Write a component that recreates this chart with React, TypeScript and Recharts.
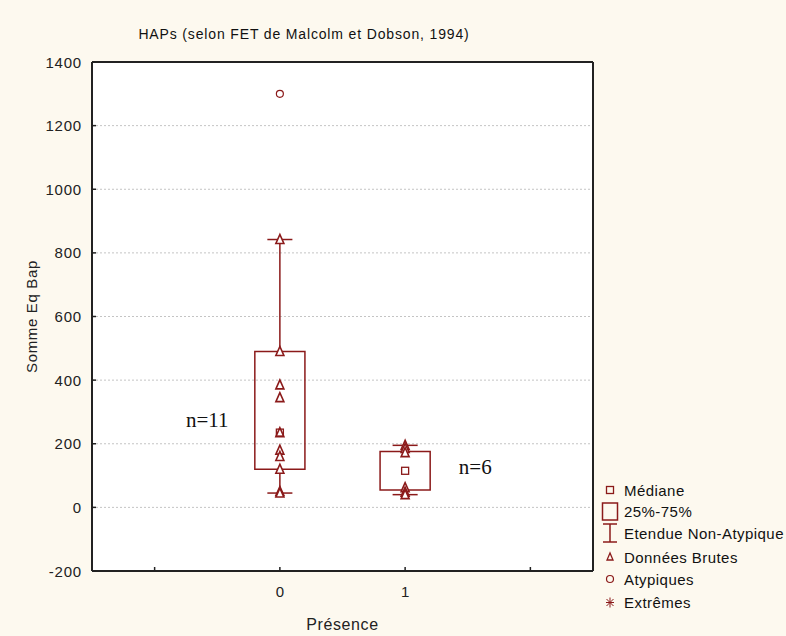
import React from 'react';
import {
  ComposedChart,
  Scatter,
  XAxis,
  YAxis,
  CartesianGrid,
  ReferenceArea,
  ReferenceLine,
  ReferenceDot,
} from 'recharts';

// groups on the x axis (Présence)
const groups = [0, 1];
const xTicks = [-1, 0, 1, 2];
const xTickLabels = ['', '0', '1', ''];
const yTicks = [-200, 0, 200, 400, 600, 800, 1000, 1200, 1400];

// raw data (non-outliers) per group
const rawPresence0 = [842, 490, 385, 345, 235, 180, 160, 120, 50, 45];
const rawPresence1 = [195, 185, 172, 62, 48, 40];
const outliers0 = [1300];

// box summaries, one entry per group
const medians = [235, 115];
const q1 = [120, 55];
const q3 = [490, 176];
const whiskerLow = [45, 40];
const whiskerHigh = [842, 195];
const counts = ['n=11', 'n=6'];

const RED = '#8b1a1a';
const BG = '#fdf9ef';
const SANS = '"Liberation Sans", Arial, sans-serif';
const SERIF = '"Liberation Serif", "Times New Roman", serif';

const BOX_HALF = 0.2;
const CAP_HALF = 0.1;

const rawPoints = [
  ...rawPresence0.map((y) => ({ x: groups[0], y })),
  ...rawPresence1.map((y) => ({ x: groups[1], y })),
];
const outlierPoints = outliers0.map((y) => ({ x: groups[0], y }));
const medianPoints = groups.map((g, i) => ({ x: g, y: medians[i] }));

const Triangle = (p: any) => (
  <polygon
    points={`${p.cx},${p.cy - 5} ${p.cx - 4},${p.cy + 4} ${p.cx + 4},${p.cy + 4}`}
    fill="#fff"
    stroke={RED}
    strokeWidth={1.6}
  />
);

const Square = (p: any) => (
  <rect x={p.cx - 3.5} y={p.cy - 3.5} width={7} height={7} fill="none" stroke={RED} strokeWidth={1.3} />
);

const Circle = (p: any) => <circle cx={p.cx} cy={p.cy} r={3.5} fill="none" stroke={RED} strokeWidth={1.2} />;

const BottomTick = (p: any) => {
  const i = xTicks.indexOf(p.payload.value);
  return (
    <g>
      <line x1={p.x} x2={p.x} y1={p.y} y2={p.y - 4} stroke="#222" strokeWidth={1.5} />
      <text
        x={p.x}
        y={p.y + 20}
        textAnchor="middle"
        fontSize={15}
        fontFamily={SANS}
        fill="#222"
        dominantBaseline="central"
      >
        {xTickLabels[i]}
      </text>
    </g>
  );
};

const TopTick = (p: any) => (
  <line x1={p.x} x2={p.x} y1={p.y} y2={p.y + 4} stroke="#222" strokeWidth={1.5} />
);

const LeftTick = (p: any) => (
  <g>
    <line x1={p.x} x2={p.x + 4} y1={p.y} y2={p.y} stroke="#222" strokeWidth={1.5} />
    <text
      x={p.x - 10}
      y={p.y}
      textAnchor="end"
      fontSize={15}
      letterSpacing={0.8}
      fontFamily={SANS}
      fill="#222"
      dominantBaseline="central"
    >
      {p.payload.value}
    </text>
  </g>
);

const RightTick = (p: any) => (
  <line x1={p.x} x2={p.x - 3} y1={p.y} y2={p.y} stroke="#222" strokeWidth={1.5} />
);

const CountLabel = (text: string) => (p: any) => {
  const vb = p.viewBox || {};
  const cx = vb.x + (vb.width || 0) / 2;
  const cy = vb.y + (vb.height || 0) / 2;
  return (
    <text x={cx} y={cy} textAnchor="middle" dominantBaseline="central" fontSize={21} fontFamily={SERIF} fill="#111">
      {text}
    </text>
  );
};

const legendItems = ['Médiane', '25%-75%', 'Etendue Non-Atypique', 'Données Brutes', 'Atypiques', 'Extrêmes'];

const LegendBox = () => {
  const rowY = [12, 33.5, 55, 79, 101, 124.5];
  const sx = 14;
  return (
    <svg width={190} height={140} style={{ position: 'absolute', left: 596, top: 478 }}>
      <rect x={sx - 3.5} y={rowY[0] - 3.5} width={7} height={7} fill="none" stroke={RED} strokeWidth={1.3} />
      <rect x={sx - 7.5} y={rowY[1] - 8.5} width={15} height={17} fill="none" stroke={RED} strokeWidth={1.5} />
      <g stroke={RED} strokeWidth={1.5}>
        <line x1={sx - 7} x2={sx + 7} y1={rowY[2] - 9} y2={rowY[2] - 9} />
        <line x1={sx} x2={sx} y1={rowY[2] - 9} y2={rowY[2] + 9} />
        <line x1={sx - 7} x2={sx + 7} y1={rowY[2] + 9} y2={rowY[2] + 9} />
      </g>
      <polygon
        points={`${sx},${rowY[3] - 4} ${sx - 3},${rowY[3] + 3} ${sx + 3},${rowY[3] + 3}`}
        fill="none"
        stroke={RED}
        strokeWidth={1.3}
      />
      <circle cx={sx} cy={rowY[4]} r={3.5} fill="none" stroke={RED} strokeWidth={1.2} />
      <g stroke={RED} strokeWidth={1}>
        <line x1={sx - 4} x2={sx + 4} y1={rowY[5]} y2={rowY[5]} />
        <line x1={sx} x2={sx} y1={rowY[5] - 5} y2={rowY[5] + 5} />
        <line x1={sx - 3.5} x2={sx + 3.5} y1={rowY[5] - 3.5} y2={rowY[5] + 3.5} />
        <line x1={sx - 3.5} x2={sx + 3.5} y1={rowY[5] + 3.5} y2={rowY[5] - 3.5} />
      </g>
      {legendItems.map((t, i) => (
        <text
          key={t}
          x={28}
          y={rowY[i]}
          fontSize={15}
          letterSpacing={0.45}
          fontFamily={SANS}
          fill="#111"
          dominantBaseline="central"
        >
          {t}
        </text>
      ))}
    </svg>
  );
};

export default function App() {
  return (
    <div style={{ position: 'absolute', left: 0, top: 0, width: 786, height: 636, background: BG }}>
      <div
        style={{
          position: 'absolute',
          top: 26,
          left: 53,
          width: 502,
          textAlign: 'center',
          fontFamily: SANS,
          fontSize: 14,
          letterSpacing: 0.85,
          color: '#111',
        }}
      >
        HAPs (selon FET de Malcolm et Dobson, 1994)
      </div>
      <ComposedChart width={786} height={636} margin={{ top: 61, right: 192, bottom: 20, left: 0 }}>
        <CartesianGrid vertical={false} fill="#fff" stroke="#c4c4c4" strokeDasharray="2 2" />
        <XAxis
          type="number"
          dataKey="x"
          domain={[-1.5, 2.5]}
          ticks={xTicks}
          height={45}
          axisLine={{ stroke: '#222', strokeWidth: 2 }}
          tickLine={false}
          tickSize={0}
          tickMargin={0}
          tick={<BottomTick />}
          interval={0}
          label={{
            content: (p: any) => (
              <text
                x={p.viewBox.x + p.viewBox.width / 2}
                y={p.viewBox.y + 53}
                textAnchor="middle"
                dominantBaseline="central"
                fontSize={16}
                letterSpacing={0.6}
                fontFamily={SANS}
                fill="#222"
              >
                Présence
              </text>
            ),
          }}
        />
        <XAxis
          xAxisId="top"
          orientation="top"
          type="number"
          dataKey="x"
          domain={[-1.5, 2.5]}
          ticks={xTicks}
          height={1}
          axisLine={{ stroke: '#222', strokeWidth: 2 }}
          tickLine={false}
          tickSize={0}
          tickMargin={0}
          tick={<TopTick />}
          interval={0}
        />
        <YAxis
          type="number"
          domain={[-200, 1400]}
          ticks={yTicks}
          width={92}
          axisLine={{ stroke: '#222', strokeWidth: 2 }}
          tickLine={false}
          tickSize={0}
          tickMargin={0}
          tick={<LeftTick />}
          interval={0}
          label={{
            content: (p: any) => {
              const cx = p.viewBox.x + 31;
              const cy = p.viewBox.y + p.viewBox.height / 2;
              return (
                <text
                  x={cx}
                  y={cy}
                  transform={`rotate(-90 ${cx} ${cy})`}
                  textAnchor="middle"
                  dominantBaseline="central"
                  fontSize={15}
                  letterSpacing={0.65}
                  fontFamily={SANS}
                  fill="#222"
                >
                  Somme Eq Bap
                </text>
              );
            },
          }}
        />
        <YAxis
          yAxisId="right"
          orientation="right"
          type="number"
          domain={[-200, 1400]}
          ticks={yTicks}
          width={1}
          axisLine={{ stroke: '#222', strokeWidth: 2 }}
          tickLine={false}
          tickSize={0}
          tickMargin={0}
          tick={<RightTick />}
          interval={0}
        />

        {groups.map((g, i) => (
          <ReferenceArea
            key={`box-${g}`}
            x1={g - BOX_HALF}
            x2={g + BOX_HALF}
            y1={q1[i]}
            y2={q3[i]}
            fill="none"
            fillOpacity={0}
            stroke={RED}
            strokeWidth={1.5}
          />
        ))}
        {groups.map((g, i) => (
          <ReferenceLine
            key={`wh-${g}`}
            segment={[{ x: g, y: q3[i] }, { x: g, y: whiskerHigh[i] }]}
            stroke={RED}
            strokeWidth={1.5}
          />
        ))}
        {groups.map((g, i) => (
          <ReferenceLine
            key={`wl-${g}`}
            segment={[{ x: g, y: q1[i] }, { x: g, y: whiskerLow[i] }]}
            stroke={RED}
            strokeWidth={1.5}
          />
        ))}
        {groups.map((g, i) => (
          <ReferenceLine
            key={`ch-${g}`}
            segment={[{ x: g - CAP_HALF, y: whiskerHigh[i] }, { x: g + CAP_HALF, y: whiskerHigh[i] }]}
            stroke={RED}
            strokeWidth={1.5}
          />
        ))}
        {groups.map((g, i) => (
          <ReferenceLine
            key={`cl-${g}`}
            segment={[{ x: g - CAP_HALF, y: whiskerLow[i] }, { x: g + CAP_HALF, y: whiskerLow[i] }]}
            stroke={RED}
            strokeWidth={1.5}
          />
        ))}

        <Scatter data={rawPoints} dataKey="y" shape={Triangle} isAnimationActive={false} />
        <Scatter data={medianPoints} dataKey="y" shape={Square} isAnimationActive={false} />
        <Scatter data={outlierPoints} dataKey="y" shape={Circle} isAnimationActive={false} />

        <ReferenceDot x={groups[0] - 0.58} y={276} r={0} fill="none" stroke="none" label={{ content: CountLabel(counts[0]) }} />
        <ReferenceDot x={groups[1] + 0.56} y={126} r={0} fill="none" stroke="none" label={{ content: CountLabel(counts[1]) }} />
      </ComposedChart>
      <LegendBox />
    </div>
  );
}
